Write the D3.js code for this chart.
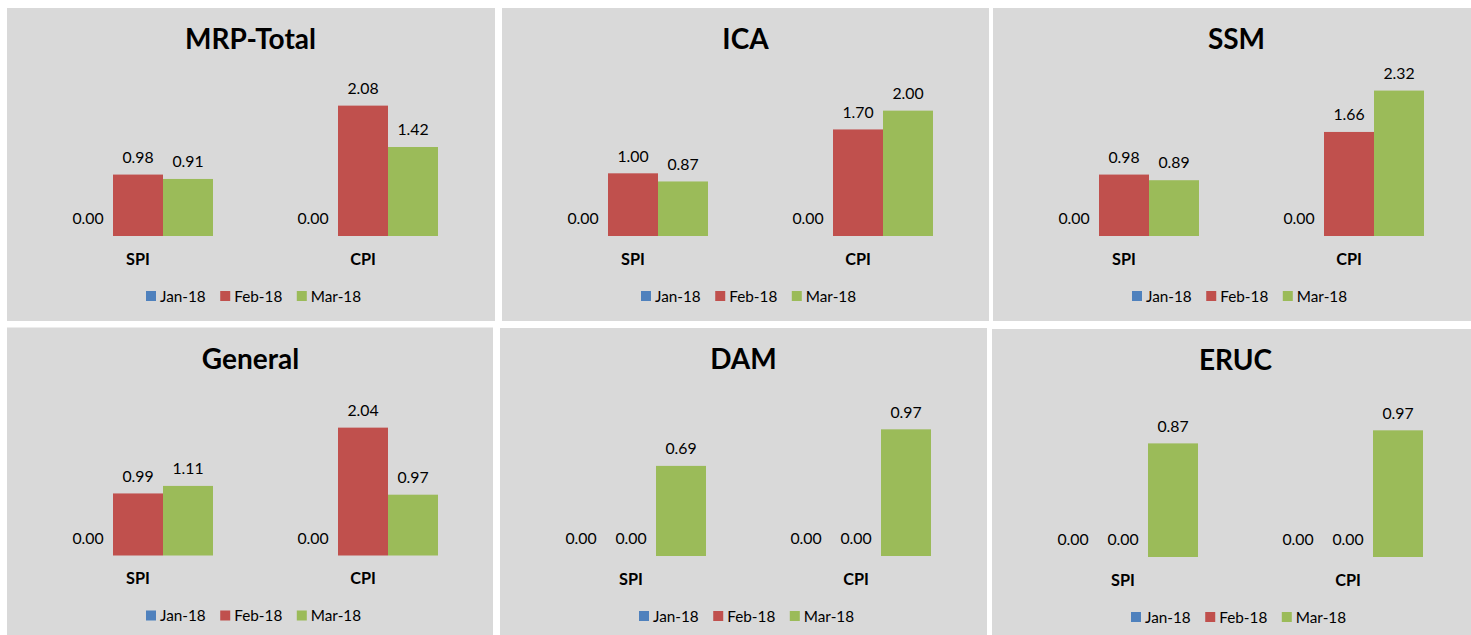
<!DOCTYPE html>
<html>
<head>
<meta charset="utf-8">
<script src="https://cdn.jsdelivr.net/npm/d3@7"></script>
<style>
  html, body { margin: 0; padding: 0; background: #ffffff; }
  svg { display: block; }
  text { font-family: Lato, "Open Sans", "Noto Sans", sans-serif; fill: #000; }
</style>
</head>
<body>
<svg id="chart" width="1471" height="635"></svg>
<script>
// Index values per panel: [SPI, CPI]
const panelTitles = ["MRP-Total", "ICA", "SSM", "General", "DAM", "ERUC"];
const categories = ["SPI", "CPI"];
const months = ["Jan-18", "Feb-18", "Mar-18"];
const jan18 = [[0.00, 0.00], [0.00, 0.00], [0.00, 0.00], [0.00, 0.00], [0.00, 0.00], [0.00, 0.00]];
const feb18 = [[0.98, 2.08], [1.00, 1.70], [0.98, 1.66], [0.99, 2.04], [0.00, 0.00], [0.00, 0.00]];
const mar18 = [[0.91, 1.42], [0.87, 2.00], [0.89, 2.32], [1.11, 0.97], [0.69, 0.97], [0.87, 0.97]];
const axisMax = [2.5, 2.5, 2.5, 2.5, 1.2, 1.2];

const seriesColors = ["#4f81bd", "#c0504d", "#9bbb59"];
const seriesValues = [jan18, feb18, mar18];

// Panel frames (left, top) in the grid
const frames = [
  { x: 7,   y: 8 },   { x: 502, y: 8 },   { x: 993, y: 8 },
  { x: 7,   y: 327.5 }, { x: 500, y: 328 }, { x: 992, y: 329 }
];
const frameW = 487, frameH = 313;

const svg = d3.select("#chart");
svg.append("rect").attr("width", 1471).attr("height", 635).attr("fill", "#ffffff");

const plotLeft = 18.5, plotWidth = 450, baseY = 228, plotHeight = 156.7;

panelTitles.forEach((title, p) => {
  const g = svg.append("g").attr("transform", `translate(${frames[p].x},${frames[p].y})`);
  const w = p === 0 ? 488 : (p === 3 ? 486 : frameW);

  g.append("rect")
    .attr("width", w).attr("height", frameH)
    .attr("fill", "#d9d9d9");

  g.append("text")
    .attr("x", 243.5).attr("y", 31)
    .attr("dy", "0.36em")
    .attr("text-anchor", "middle")
    .attr("font-weight", 700)
    .attr("font-size", 28)
    .text(title);

  const x0 = d3.scaleBand().domain(categories).range([plotLeft, plotLeft + plotWidth]).paddingInner(0).paddingOuter(0);
  const x1 = d3.scaleBand().domain(months).range([0, 150]);
  const groupOffset = (x0.bandwidth() - 150) / 2;
  const y = d3.scaleLinear().domain([0, axisMax[p]]).range([baseY, baseY - plotHeight]);

  const rows = [];
  categories.forEach((c, ci) => {
    months.forEach((m, mi) => {
      rows.push({ cat: c, month: m, mi, value: seriesValues[mi][p][ci] });
    });
  });

  const bx = d => x0(d.cat) + groupOffset + x1(d.month);

  g.selectAll("rect.bar").data(rows).join("rect")
    .attr("class", "bar")
    .attr("x", bx)
    .attr("width", x1.bandwidth())
    .attr("y", d => y(d.value))
    .attr("height", d => y(0) - y(d.value))
    .attr("fill", d => seriesColors[d.mi]);

  g.selectAll("text.val").data(rows).join("text")
    .attr("class", "val")
    .attr("x", d => bx(d) + x1.bandwidth() / 2)
    .attr("y", d => y(d.value) - 17.5)
    .attr("dy", "0.36em")
    .attr("text-anchor", "middle")
    .attr("font-size", 15.8)
    .text(d => d3.format(".2f")(d.value));

  g.selectAll("text.cat").data(categories).join("text")
    .attr("class", "cat")
    .attr("x", d => x0(d) + x0.bandwidth() / 2)
    .attr("y", 251)
    .attr("dy", "0.36em")
    .attr("text-anchor", "middle")
    .attr("font-weight", 700)
    .attr("font-size", 16.3)
    .text(d => d);

  // Legend row under the plot
  const lg = g.append("g").attr("transform", "translate(139,288)");
  let cx = 0;
  months.forEach((m, i) => {
    const item = lg.append("g").attr("transform", `translate(${cx},0)`);
    item.append("rect").attr("x", 0).attr("y", -5).attr("width", 10).attr("height", 10).attr("fill", seriesColors[i]);
    const t = item.append("text").attr("x", 14).attr("y", 0).attr("dy", "0.36em").attr("font-size", 15.3).text(m);
    cx += 14 + t.node().getComputedTextLength() + 14.5;
  });
});
</script>
</body>
</html>
